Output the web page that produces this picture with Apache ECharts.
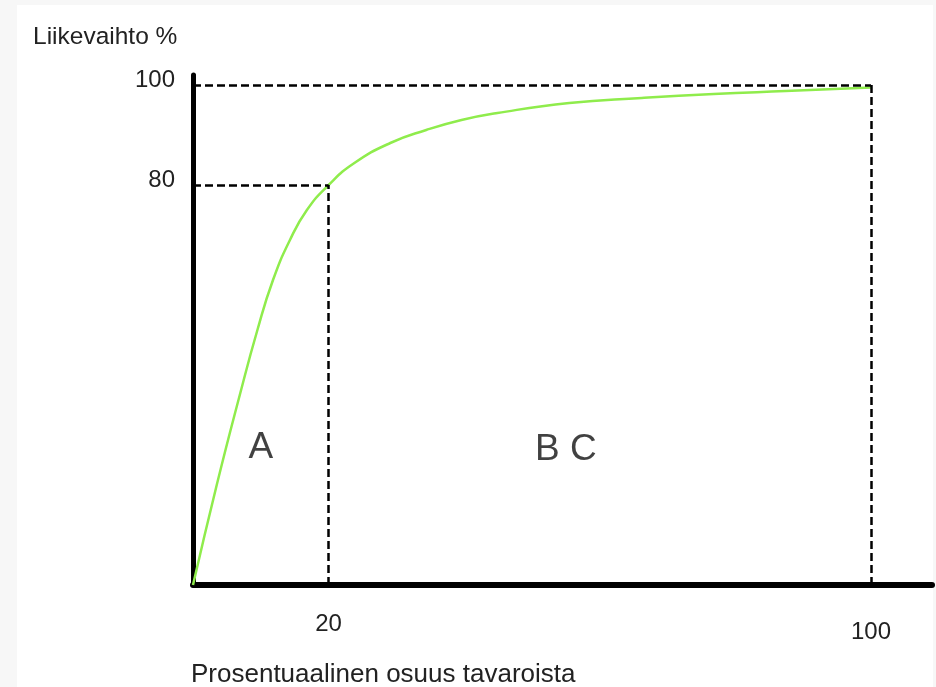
<!DOCTYPE html>
<html>
<head>
<meta charset="utf-8">
<script src="https://cdn.jsdelivr.net/npm/echarts@6/dist/echarts.min.js"></script>
<style>
  html, body { margin: 0; padding: 0; background: #f7f7f7; }
  #wrap { position: relative; width: 936px; height: 687px; overflow: hidden; }
  #paper { position: absolute; left: 17px; top: 5px; width: 916px; height: 700px; background: #fff; }
  #main { position: absolute; left: 0; top: 0; width: 936px; height: 687px; }
</style>
</head>
<body>
<div id="wrap">
  <div id="paper"></div>
  <div id="main"></div>
</div>
<script>
// Pareto / ABC curve: share of items (%) vs share of turnover (%)
var curveX = [0, 3.5, 6.9, 9.5, 11.8, 14.3, 16.8, 20, 23.8, 29.1, 34.4, 39.6, 44.9, 55.5, 66.2, 76.8, 87.4, 100];
var curveY = [0, 20, 38, 51, 61, 69, 75, 80, 84.4, 88.4, 91, 93, 94.4, 96.4, 97.4, 98.2, 98.8, 99.5];

// guide points (dashed lines)
var splitPoint = [20, 80];
var endPoint = [100, 100];

// tick labels
var xTicks = [20, 100];
var yTicks = [80, 100];

// region labels
var regionNames = ["A", "B C"];
var regionPos = [[10, 27.5], [55, 27]];

var yTitle = "Liikevaihto %";
var xTitle = "Prosentuaalinen osuus tavaroista";

var font = "'Liberation Sans', Arial, sans-serif";
var textColor = "#222";

var chart = echarts.init(document.getElementById("main"));

var curveData = curveX.map(function (x, i) { return [x, curveY[i]]; });
var dash = { color: "#000", width: 2.5, type: [8, 4] };

chart.setOption({
  animation: false,
  textStyle: { fontFamily: font },
  title: [
    {
      text: yTitle, left: 28, top: 20,
      textStyle: { fontFamily: font, fontSize: 24.5, fontWeight: "normal", color: textColor }
    },
    {
      text: xTitle, left: 186, top: 657,
      textStyle: { fontFamily: font, fontSize: 26, fontWeight: "normal", color: textColor }
    }
  ],
  grid: { left: 193, right: 4, top: 75, bottom: 102, containLabel: false },
  xAxis: {
    type: "value", min: 0, max: 109,
    splitLine: { show: false },
    axisLine: { show: true, onZero: false, lineStyle: { color: "#000", width: 6 } },
    axisTick: { show: false },
    axisLabel: {
      customValues: xTicks,
      margin: 27,
      fontFamily: font, fontSize: 24, color: textColor,
      formatter: function (v) { return v === 100 ? "{b|" + v + "}" : "{a|" + v + "}"; },
      rich: {
        a: { fontFamily: font, fontSize: 24, color: textColor, padding: [0, 0, 0, 0] },
        b: { fontFamily: font, fontSize: 24, color: textColor, padding: [8, 0, 0, 0] }
      }
    }
  },
  yAxis: {
    type: "value", min: 0, max: 102,
    splitLine: { show: false },
    axisLine: { show: true, onZero: false, lineStyle: { color: "#000", width: 5 } },
    axisTick: { show: false },
    axisLabel: {
      customValues: yTicks,
      margin: 18,
      fontFamily: font, fontSize: 24, color: textColor,
      formatter: function (v) { return "{t|" + v + "}"; },
      rich: {
        t: { fontFamily: font, fontSize: 24, color: textColor, padding: [0, 0, 9, 0] }
      }
    }
  },
  series: [
    {
      type: "line",
      data: curveData,
      smooth: 0.5,
      showSymbol: false,
      lineStyle: { color: "#8fec4c", width: 2.5 },
      z: 3,
      markLine: {
        silent: true,
        symbol: "none",
        label: { show: false },
        lineStyle: dash,
        data: [
          [{ coord: [0, splitPoint[1]] }, { coord: splitPoint }],
          [{ coord: [splitPoint[0], 0] }, { coord: splitPoint }],
          [{ coord: [0, endPoint[1]] }, { coord: endPoint }],
          [{ coord: [endPoint[0], 0] }, { coord: endPoint }]
        ]
      }
    },
    {
      type: "scatter",
      symbolSize: 0,
      silent: true,
      data: regionPos.map(function (p, i) { return { value: p, name: regionNames[i] }; }),
      label: {
        show: true, position: "inside",
        formatter: function (p) { return p.name; },
        fontFamily: font, fontSize: 37, color: "#111"
      }
    }
  ]
});
</script>
</body>
</html>
